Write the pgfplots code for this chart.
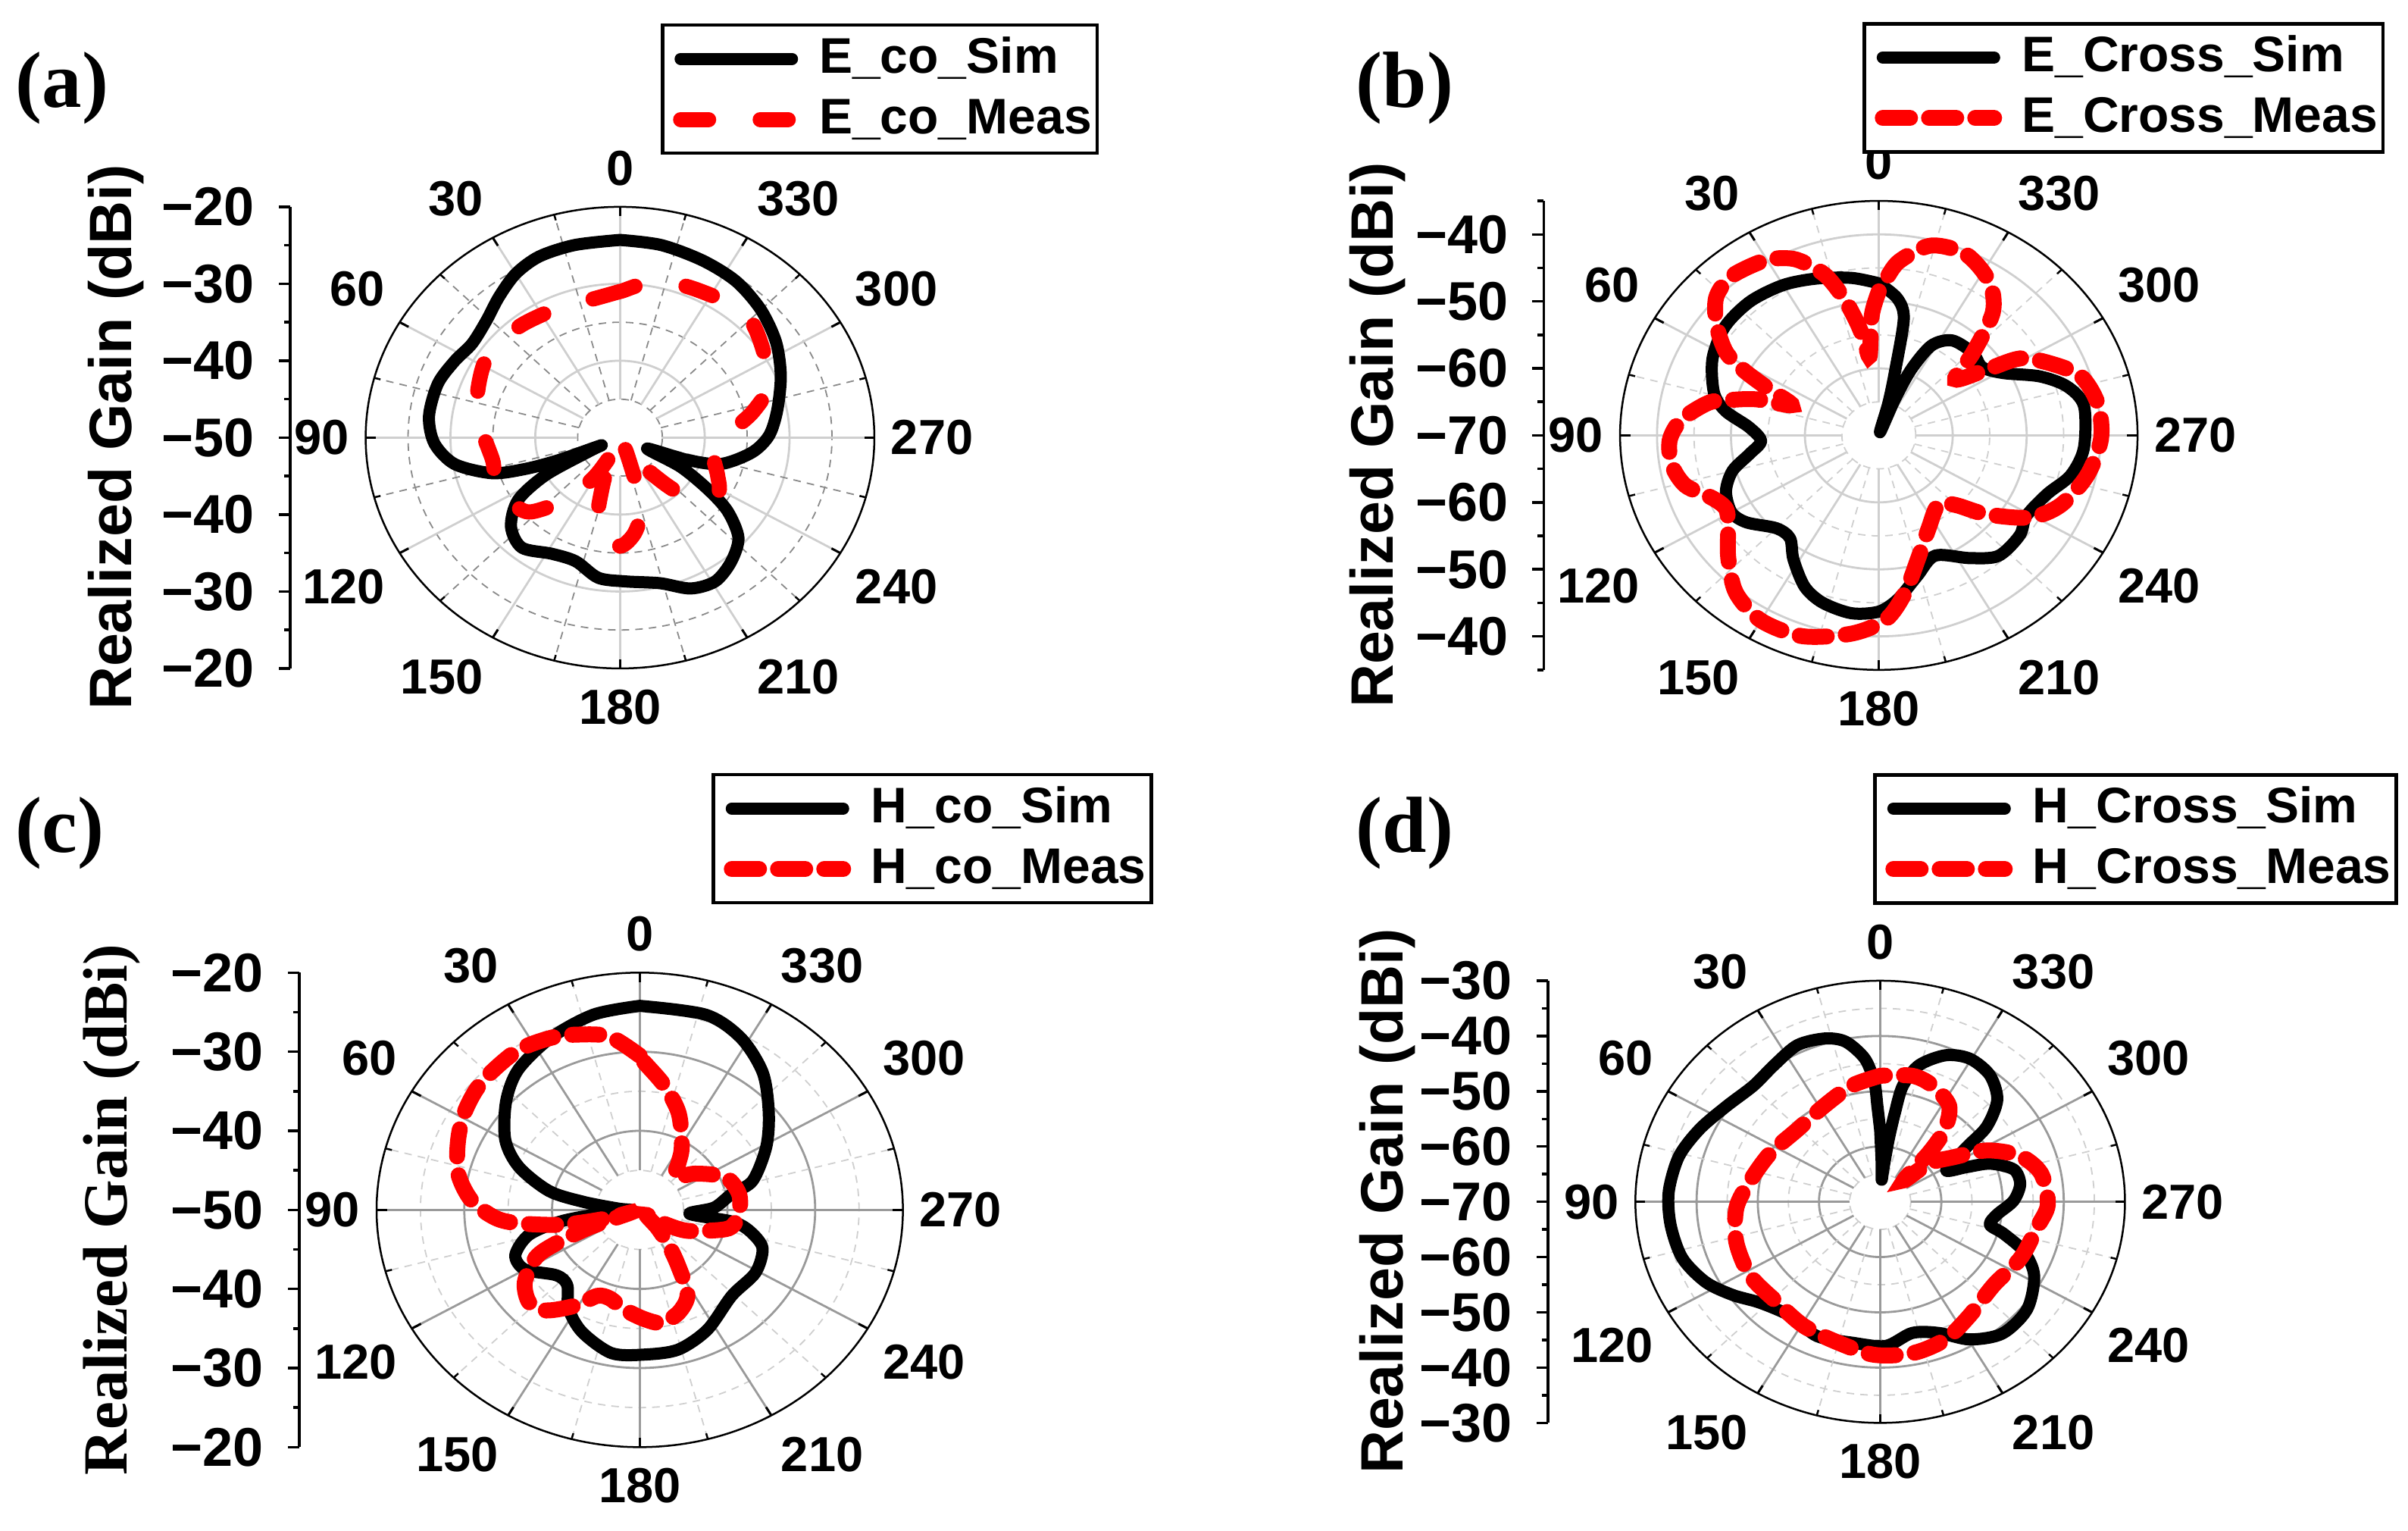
\documentclass[border=0pt]{standalone}
\usepackage{fontspec}
\setmainfont{Liberation Sans}
\newfontfamily\tnr{Liberation Serif}
\usepackage{pgfplots}
\pgfplotsset{compat=1.18}
\usepackage{pgfplotstable}

% angle (deg, counter-clockwise from top) and realized gain (dBi)
\pgfplotstableread{
a g
0 -24.3
12 -24.4
22 -24.6
30 -25.4
38 -26.8
46 -28.1
55 -28.7
63 -28.1
72 -27.4
83 -27.3
92 -28.1
100 -30.2
107 -34.2
110 -38.1
112 -42.2
114 -47.5
116 -46
119 -40
124 -35.5
132 -32.7
141 -31.6
152 -32.9
162 -33.1
172 -31.6
182 -31.3
194 -30.5
203 -28.7
211 -28.2
219 -29.2
227 -30.9
233 -34.1
237 -37.6
242 -41.9
246 -46.5
250 -41.5
254 -37.6
263 -34.3
271 -32.4
281 -31.1
293 -29.4
304 -27.8
315 -26.5
326 -25.5
337 -25.0
349 -24.5
360 -24.3
}\aSim

\pgfplotstableread{
a g
0 -31.0
10 -31.7
20 -31.7
28 -31.6
39 -31.3
50 -31.2
59 -31.3
70 -32.15
79 -33.0
88 -33.8
95 -34.4
102 -34.7
110 -34.3
118 -34.0
125 -34.7
132.5 -35.7
141 -39.5
149 -43.8
155 -47.5
158 -48.8
161 -44.2
166 -38.5
171 -37.5
180 -35.9
188 -37.5
196 -40.6
198 -44.3
202 -48
205 -49.5
212 -47.5
217 -45
222 -41.5
226 -38.6
231.5 -37.8
238.7 -36.4
247 -37.5
255 -38.5
261 -38.5
268 -37.5
275 -36.4
282 -34
290 -31.5
301 -30.0
314 -28.4
324.5 -28.4
333 -28.7
340 -28.9
346 -29.5
352 -29.8
359 -30.9
360 -31.0
}\aMeas

\pgfplotstableread{
a g
0 -47.3
9 -46.2
20 -45.1
30 -44.1
41 -43.5
52 -43.6
63 -44.75
74 -46.8
80 -48.9
86 -52.4
93 -54.05
99 -52.3
105 -49.5
112 -47.7
120 -47.0
126 -47.9
135 -50.4
142 -50.5
148 -48.2
156 -45.3
163 -43.9
172 -43.2
180 -43.7
186 -45.4
194 -48.4
203 -50.5
214 -47.9
222 -45.8
232 -45.8
239 -46.7
249 -45.6
257 -43.4
266 -42.2
279 -41.9
286 -43.5
292 -46.5
299 -50.8
306 -52.7
314 -52.3
325 -52.7
332 -54.8
336 -59.2
338 -64.1
341 -69.5
345 -65
347 -60.4
349 -52.3
353 -49.4
360 -47.3
}\bSim

\pgfplotstableread{
a g
0 -48.5
3 -52
6 -58.1
8 -55.5
10 -52.8
13 -49
17 -44.9
23 -41.5
29 -39.9
35 -39.3
41 -39.0
47 -39.9
53 -42.5
59 -45.9
62 -49.3
65 -53.5
69 -57.4
72 -52.6
75 -49.5
78 -46.5
85 -43.2
91.5 -41.7
99 -41.65
106 -42.8
112.5 -45.6
118 -46.6
124 -45.4
132 -42.6
140.5 -39.6
150 -38.1
161 -38.3
173 -40.2
182 -42.5
188.5 -46.2
196 -50.8
206 -54.6
218 -56.9
225 -55.3
231 -51.3
239 -46.2
247 -43.3
258 -41.2
269 -39.94
279 -40.0
288 -41.3
295 -44.5
301 -47.7
304 -52.5
309 -56.7
314 -52.3
320 -46
327 -42.6
336.5 -40.5
346 -40.8
354 -43.9
358 -47
360 -48.5
}\bMeas

\pgfplotstableread{
a g
0 -24.2
12 -24.75
25 -26.0
38 -27.5
48 -29.5
60 -32.3
68.5 -35.2
77 -39.4
81 -43.5
86 -47.5
90 -49
94 -47
99 -41.1
104 -37
112 -34.7
120 -34.9
131 -37.4
139 -37.4
147 -35.1
157 -33.2
170 -31.6
182 -31.7
194 -31.8
207 -33.0
224 -34.9
239 -34.6
251 -35.2
258 -37.2
262 -39.4
265 -44.3
272 -41.5
281 -39.3
286 -36.6
299 -33.5
310 -30.8
321 -27.7
332 -25.4
343 -24.2
360 -24.2
}\cSim

\pgfplotstableread{
a g
0 -30.5
9 -27.8
18 -26.7
25 -26.0
35 -25.5
48 -25.8
58 -26.5
67 -27.5
77.5 -28.8
86.5 -30.8
93.5 -33.5
97 -36.1
102 -41
106 -46
108 -49
111 -44
114 -39.5
117 -36.7
125 -34.0
133 -32.8
140 -33.4
149 -35.9
156 -38.1
163 -38.3
172 -37.3
182 -36.2
190 -35.5
199 -36.3
207 -38
212 -41.8
217 -44.7
222 -47
230 -49
237 -47
242 -44.7
247 -43.15
257 -39.6
267 -38.7
280 -38.5
293 -39.4
306 -42.2
316 -44.25
323 -42.7
329 -40.7
340 -37.0
350 -34.0
358.5 -31.3
360 -30.5
}\cMeas

\pgfplotstableread{
a g
0 -57
1.5 -52.7
2.5 -48.4
5.5 -44
11 -40.5
17 -39.1
25.5 -38.6
35 -39.8
44.6 -40.5
55.5 -39.5
66 -37.7
76 -36.1
87 -35.4
97 -35.5
107.5 -36.1
117 -38
125 -40.6
133 -43.2
145 -44.7
157 -43.6
170 -44.1
182 -43.9
192.5 -45.7
202 -44.4
210.5 -41.1
220 -38.9
231 -39.1
242 -41.5
249 -44.8
254 -49
257 -51.6
263 -50.8
270.5 -48.2
278 -46.9
285 -47.4
291 -50.75
294 -54.6
298 -57.8
305 -52.7
308 -47.9
314 -43.4
322 -40.9
330.5 -40.25
338 -41.4
345.6 -44.5
350 -48.7
351.5 -53.7
353 -58.7
355 -64
356.5 -66
358 -63
360 -57
}\dSim

\pgfplotstableread{
a g
0 -47.2
12.6 -48.5
28 -50.4
46 -51.2
64 -50
80 -48.4
92.5 -46.5
107 -45.4
122 -44.9
137 -45.2
151 -44.3
165 -43.6
178 -42.3
191 -42.1
203 -42.9
215 -44.7
231 -46.1
246 -44.9
260 -43.9
269 -42.6
281 -43.2
290 -45.7
298 -50.2
304 -55.6
311 -59.4
315 -64.5
318 -58.1
321 -53.3
327 -49.3
338 -47.3
347 -46.6
360 -47.2
}\dMeas

\definecolor{gridlt}{HTML}{CFCFCF}
\definecolor{gridmd}{HTML}{9A9A9A}
\definecolor{griddk}{HTML}{8A8A8A}

% #1 outer radius, #2 solid circles, #3 dashed circles, #4 solid colour, #5 dashed colour
\newcommand{\polgrid}[5]{%
  \pgfplotsinvokeforeach{#3}{\draw[#5, line width=0.18pt, dash pattern=on 1pt off 0.8pt] (axis cs:0,0) ellipse [x radius=##1, y radius=##1];}
  \pgfplotsinvokeforeach{#2}{\draw[#4, line width=0.28pt] (axis cs:0,0) ellipse [x radius=##1, y radius=##1];}
  \pgfplotsinvokeforeach{15,45,75,105,135,165,195,225,255,285,315,345}{%
    \draw[#5, line width=0.18pt, dash pattern=on 1pt off 0.8pt] (axis cs:{-5*sin(##1)},{5*cos(##1)}) -- (axis cs:{-#1*sin(##1)},{#1*cos(##1)});
    \draw[black, line width=0.25pt] (axis cs:{-#1*sin(##1)},{#1*cos(##1)}) -- (axis cs:{-0.975*#1*sin(##1)},{0.975*#1*cos(##1)});}
  \pgfplotsinvokeforeach{0,30,60,90,120,150,180,210,240,270,300,330}{%
    \draw[#4, line width=0.28pt] (axis cs:{-5*sin(##1)},{5*cos(##1)}) -- (axis cs:{-#1*sin(##1)},{#1*cos(##1)});
    \draw[black, line width=0.3pt] (axis cs:{-#1*sin(##1)},{#1*cos(##1)}) -- (axis cs:{-0.96*#1*sin(##1)},{0.96*#1*cos(##1)});}
  \draw[black, line width=0.25pt] (axis cs:0,0) ellipse [x radius=#1, y radius=#1];
  \node[alab, anchor=south, yshift=2.6pt] at (axis cs:0,#1) {0};
  \node[alab, anchor=south east, xshift=-1.1pt, yshift=2.6pt] at (axis cs:{-#1*sin(30)},{#1*cos(30)}) {30};
  \node[alab, anchor=south east, xshift=-1.8pt, yshift=1.9pt] at (axis cs:{-#1*sin(60)},{#1*cos(60)}) {60};
  \node[alab, anchor=east, xshift=-2pt] at (axis cs:-#1,0) {90};
  \node[alab, anchor=north east, xshift=-1.8pt, yshift=-1.9pt] at (axis cs:{-#1*sin(120)},{#1*cos(120)}) {120};
  \node[alab, anchor=north east, xshift=-1.1pt, yshift=-2.7pt] at (axis cs:{-#1*sin(150)},{#1*cos(150)}) {150};
  \node[alab, anchor=north, yshift=-2.6pt] at (axis cs:0,-#1) {180};
  \node[alab, anchor=north west, xshift=1.1pt, yshift=-2.7pt] at (axis cs:{-#1*sin(210)},{#1*cos(210)}) {210};
  \node[alab, anchor=north west, xshift=1.8pt, yshift=-1.9pt] at (axis cs:{-#1*sin(240)},{#1*cos(240)}) {240};
  \node[alab, anchor=west, xshift=2pt] at (axis cs:#1,0) {270};
  \node[alab, anchor=south west, xshift=1.8pt, yshift=1.9pt] at (axis cs:{-#1*sin(300)},{#1*cos(300)}) {300};
  \node[alab, anchor=south west, xshift=1.1pt, yshift=2.6pt] at (axis cs:{-#1*sin(330)},{#1*cos(330)}) {330};
}

\tikzset{alab/.style={font=\fontsize{6.5}{7}\selectfont\bfseries, inner sep=0pt}}

\pgfplotsset{
  polbase/.style={
    scale only axis, clip=false, anchor=south west,
    axis x line=none, axis y line=left,
    y axis line style={-, line width=0.35pt},
    tick align=outside, major tick length=1.5pt, minor tick length=0.8pt,
    ytick style={black, line width=0.35pt},
    yticklabel style={font=\fontsize{7.2}{8}\selectfont\bfseries, inner sep=0pt, xshift=-3pt},
    legend cell align=left,
    legend style={anchor=north west, draw=black, line width=0.45pt,
      font=\fontsize{6.6}{7}\selectfont\bfseries,
      inner xsep=0.5pt, inner ysep=1.1pt, row sep=1.3pt,
      nodes={inner sep=0.2pt, text height=5pt, text depth=1.3pt},
      /tikz/every even column/.append style={column sep=0pt}},
    legend image code/.code={\draw[##1] (0.9pt,0pt) -- (15.6pt,0pt); \path (0pt,0pt) (18pt,0pt);},
  },
  simline/.style={black, line width=1.6pt, smooth, line join=round, line cap=round},
  measA/.style={red, line width=2pt, smooth, line cap=round, dash pattern=on 3.7pt off 6.8pt},
  measB/.style={red, line width=2.1pt, smooth, line cap=round, dash pattern=on 3.6pt off 2.5pt},
}

\begin{document}
\begin{tikzpicture}
\path[use as bounding box] (0,0) rectangle (317.8pt,201.9pt);

% (a)
\begin{axis}[polbase, at={(38.3pt,113.71pt)}, width=77.09pt, height=60.9pt,
  xmin=-38.9, xmax=30, ymin=-30, ymax=30,
  ytick={-30,-20,-10,0,10,20,30}, yticklabels={−20,−30,−40,−50,−40,−30,−20},
  minor ytick={-25,-15,-5,5,15,25},
  legend style={at={(0.6343,1.3974)}}]
\polgrid{30}{10,20}{5,15,25}{gridlt}{griddk}
\addplot[simline] table[x expr={-(\thisrow{g}+50)*sin(\thisrow{a})}, y expr={(\thisrow{g}+50)*cos(\thisrow{a})}] {\aSim};
\addplot[measA] table[x expr={-(\thisrow{g}+50)*sin(\thisrow{a})}, y expr={(\thisrow{g}+50)*cos(\thisrow{a})}] {\aMeas};
\legend{E\_co\_Sim, E\_co\_Meas}
\end{axis}

% (b)
\begin{axis}[polbase, at={(203.73pt,113.52pt)}, width=78.38pt, height=61.88pt,
  xmin=-45.33, xmax=35, ymin=-35, ymax=35,
  ytick={-30,-20,-10,0,10,20,30}, yticklabels={−40,−50,−60,−70,−60,−50,−40},
  minor ytick={-35,-25,-15,-5,5,15,25,35},
  legend style={at={(0.5368,1.3814)}}]
\polgrid{35}{10,20,30}{5,15,25}{gridlt}{gridlt}
\addplot[simline] table[x expr={-(\thisrow{g}+70)*sin(\thisrow{a})}, y expr={(\thisrow{g}+70)*cos(\thisrow{a})}] {\bSim};
\addplot[measB] table[x expr={-(\thisrow{g}+70)*sin(\thisrow{a})}, y expr={(\thisrow{g}+70)*cos(\thisrow{a})}] {\bMeas};
\legend{E\_Cross\_Sim, E\_Cross\_Meas}
\end{axis}

% (c)
\begin{axis}[polbase, at={(39.5pt,10.97pt)}, width=79.66pt, height=62.6pt,
  xmin=-38.81, xmax=30, ymin=-30, ymax=30,
  ytick={-30,-20,-10,0,10,20,30}, yticklabels={−20,−30,−40,−50,−40,−30,−20},
  minor ytick={-25,-15,-5,5,15,25},
  legend style={at={(0.6829,1.4206)}}]
\polgrid{30}{10,20}{5,15,25}{gridmd}{gridlt}
\addplot[simline] table[x expr={-(\thisrow{g}+50)*sin(\thisrow{a})}, y expr={(\thisrow{g}+50)*cos(\thisrow{a})}] {\cSim};
\addplot[measB] table[x expr={-(\thisrow{g}+50)*sin(\thisrow{a})}, y expr={(\thisrow{g}+50)*cos(\thisrow{a})}] {\cMeas};
\legend{H\_co\_Sim, H\_co\_Meas}
\end{axis}

% (d)
\begin{axis}[polbase, at={(204.28pt,14.17pt)}, width=76.16pt, height=58.34pt,
  xmin=-54.3, xmax=40, ymin=-40, ymax=40,
  ytick={-40,-30,-20,-10,0,10,20,30,40}, yticklabels={−30,−40,−50,−60,−70,−60,−50,−40,−30},
  minor ytick={-35,-25,-15,-5,5,15,25,35},
  legend style={at={(0.5636,1.4695)}}]
\polgrid{40}{10,20,30}{5,15,25,35}{gridmd}{gridlt}
\addplot[simline] table[x expr={-(\thisrow{g}+70)*sin(\thisrow{a})}, y expr={(\thisrow{g}+70)*cos(\thisrow{a})}] {\dSim};
\addplot[measB] table[x expr={-(\thisrow{g}+70)*sin(\thisrow{a})}, y expr={(\thisrow{g}+70)*cos(\thisrow{a})}] {\dMeas};
\legend{H\_Cross\_Sim, H\_Cross\_Meas}
\end{axis}

% axis titles and panel letters
\node[rotate=90, font=\fontsize{7.9}{8}\selectfont\bfseries] at (15.3pt,144.2pt) {Realized Gain (dBi)};
\node[rotate=90, font=\fontsize{7.9}{8}\selectfont\bfseries] at (181.8pt,144.5pt) {Realized Gain (dBi)};
\node[rotate=90, font=\tnr\fontsize{8.3}{9}\selectfont\bfseries] at (14.8pt,42.3pt) {Realized Gain (dBi)};
\node[rotate=90, font=\fontsize{7.9}{8}\selectfont\bfseries] at (183.1pt,43.4pt) {Realized Gain (dBi)};
\node[font=\tnr\fontsize{10.5}{11}\selectfont\bfseries] at (8.2pt,190.3pt) {(a)};
\node[font=\tnr\fontsize{10.5}{11}\selectfont\bfseries] at (185.4pt,190.3pt) {(b)};
\node[font=\tnr\fontsize{10.5}{11}\selectfont\bfseries] at (7.9pt,92pt) {(c)};
\node[font=\tnr\fontsize{10.5}{11}\selectfont\bfseries] at (185.4pt,92pt) {(d)};
\end{tikzpicture}
\end{document}
